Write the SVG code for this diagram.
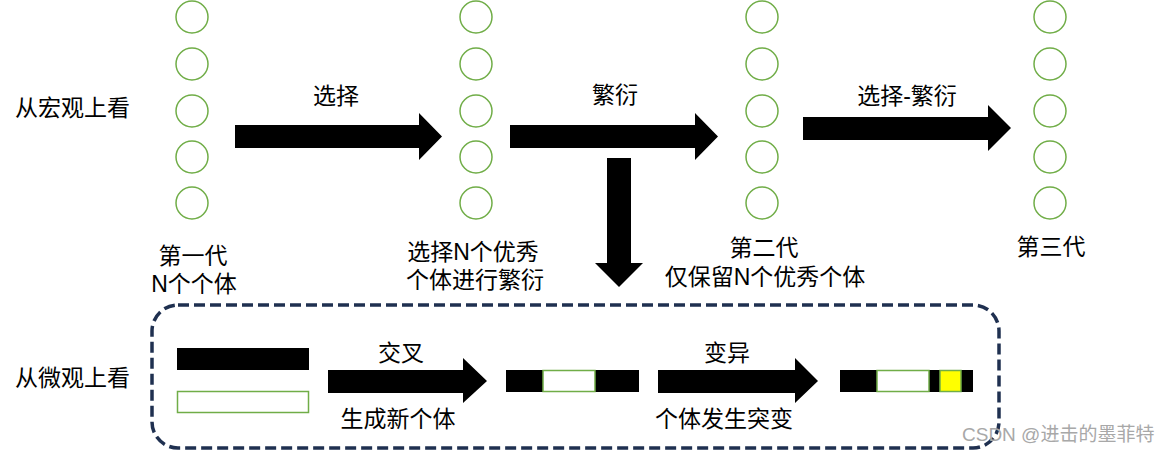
<svg xmlns="http://www.w3.org/2000/svg" width="1169" height="452" viewBox="0 0 1169 452">
<style>
.t{font-family:"Liberation Sans","Noto Sans CJK SC",sans-serif;font-size:23px;fill:#000}
.c{text-anchor:middle}
.ind{fill:none;stroke:#70ad47;stroke-width:1.5}
.blk{fill:#000}
.wm{font-family:"Liberation Sans","Noto Sans CJK SC",sans-serif;font-size:19px;fill:#a8a8a8}
</style>
<defs>
<g id="col">
<circle class="ind" cx="0" cy="17" r="16"/>
<circle class="ind" cx="0" cy="64" r="16"/>
<circle class="ind" cx="0" cy="111" r="16"/>
<circle class="ind" cx="0" cy="157" r="16"/>
<circle class="ind" cx="0" cy="203" r="16"/>
</g>
</defs>
<rect width="1169" height="452" fill="#fff"/>
<g id="gen1"><use href="#col" x="192"/>
<text class="t c" x="193" y="264">第一代</text>
<text class="t c" x="194" y="292">N个个体</text></g>
<g id="gen2"><use href="#col" x="476"/>
<text class="t c" x="473" y="260">选择N个优秀</text>
<text class="t c" x="475" y="288">个体进行繁衍</text></g>
<g id="gen3"><use href="#col" x="762"/>
<text class="t c" x="764" y="256">第二代</text>
<text class="t c" x="765" y="285">仅保留N个优秀个体</text></g>
<g id="gen4"><use href="#col" x="1050"/>
<text class="t c" x="1051" y="255">第三代</text></g>
<g id="macro"><text class="t" x="15" y="116">从宏观上看</text></g>
<g id="micro"><text class="t" x="15" y="386">从微观上看</text></g>
<g id="frame"><rect x="152" y="305" width="847" height="143" rx="26" ry="26" fill="none" stroke="#1f3050" stroke-width="3.5" stroke-dasharray="11,5"/></g>
<g id="parents">
<rect class="blk" x="177" y="348" width="132" height="22"/>
<rect class="ind" x="177.5" y="391.5" width="131" height="21"/>
</g>
<g id="child1">
<rect class="blk" x="506" y="370" width="133" height="22"/>
<rect x="543" y="370.5" width="52" height="21" fill="#fff" stroke="#70ad47" stroke-width="1.5"/>
</g>
<g id="child2">
<rect class="blk" x="840" y="370" width="133" height="22"/>
<rect x="877" y="370.5" width="52" height="21" fill="#fff" stroke="#70ad47" stroke-width="1.5"/>
<rect x="940" y="370.5" width="21" height="21" fill="#ffff00" stroke="#70ad47" stroke-width="1.5"/>
</g>
<g id="connectors">
<polygon class="blk" points="235,125 419,125 419,113 442,136.5 419,160 419,148 235,148"/>
<text class="t c" x="336" y="104">选择</text>
<polygon class="blk" points="510,125 695,125 695,113 718,136.5 695,160 695,148 510,148"/>
<text class="t c" x="615" y="103">繁衍</text>
<polygon class="blk" points="803,117 988,117 988,105 1011,128 988,151 988,140 803,140"/>
<text class="t c" x="907" y="104">选择-繁衍</text>
<polygon class="blk" points="607,158 631,158 631,263 643,263 619,287 595,263 607,263"/>
<polygon class="blk" points="328,370 463,370 463,358 487,381 463,403 463,393 328,393"/>
<text class="t c" x="401" y="361">交叉</text>
<text class="t c" x="398" y="427">生成新个体</text>
<polygon class="blk" points="658,370 795,370 795,358 818,381 795,403 795,393 658,393"/>
<text class="t c" x="727" y="361">变异</text>
<text class="t c" x="724" y="427">个体发生突变</text>
</g>
<text class="wm" x="962" y="441">CSDN @进击的墨菲特</text>
</svg>
